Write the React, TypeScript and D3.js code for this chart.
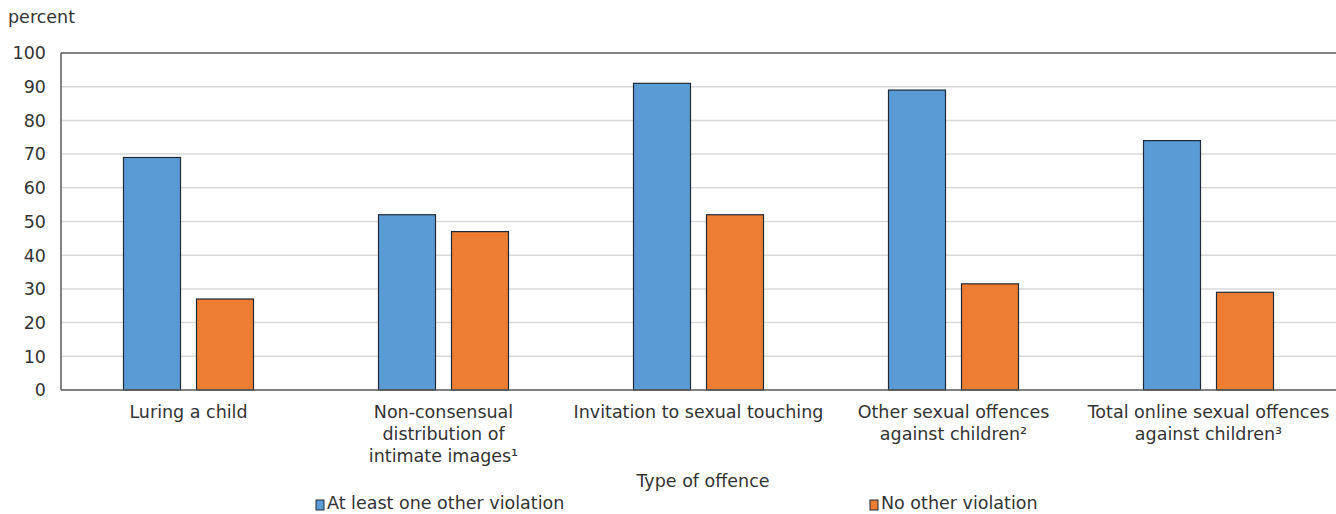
import React from "react";
import * as d3 from "d3";

const categories: string[][] = [
  ["Luring a child"],
  ["Non-consensual", "distribution of", "intimate images¹"],
  ["Invitation to sexual touching"],
  ["Other sexual offences", "against children²"],
  ["Total online sexual offences", "against children³"],
];
const seriesNames = ["At least one other violation", "No other violation"];
const atLeastOne = [69, 52, 91, 89, 74];
const noOther = [27, 47, 52, 31.5, 29];
const yTicks = [0, 10, 20, 30, 40, 50, 60, 70, 80, 90, 100];
const colors = ["#5b9bd5", "#ed7d31"];

const W = 1336;
const H = 514;
const margin = { left: 61, right: 0, top: 53, bottom: 124 };
const FONT = "Verdana, 'DejaVu Sans', sans-serif";
const TEXT = "#333333";
const FS = 17.5;

export default function App() {
  const x = d3
    .scaleBand<number>()
    .domain(d3.range(categories.length))
    .range([margin.left, W - margin.right])
    .paddingInner(0)
    .paddingOuter(0);
  const y = d3.scaleLinear().domain([0, 100]).range([H - margin.bottom, margin.top]);
  const bw = x.bandwidth();
  const barW = 57;
  const gap = 16;
  const groupW = barW * 2 + gap;
  const series = [atLeastOne, noOther];

  return (
    <svg
      width={W}
      height={H}
      style={{ position: "absolute", left: 0, top: 0, background: "#fff" }}
      fontFamily={FONT}
    >
      <text x={8} y={23} fontSize={FS} fill={TEXT}>percent</text>
      {yTicks.map((t) => (
        <g key={t}>
          {t > 0 && t < 100 && (
            <line x1={margin.left} x2={W} y1={y(t)} y2={y(t)} stroke="#d9d9d9" strokeWidth={1.5} />
          )}
          <text x={46} y={y(t)} dy="0.36em" textAnchor="end" fontSize={FS} fill={TEXT}>
            {t}
          </text>
        </g>
      ))}
      {series.map((vals, si) =>
        vals.map((v, i) => {
          const x0 = (x(i) as number) + bw / 2 - groupW / 2 + si * (barW + gap);
          return (
            <rect
              key={`${si}-${i}`}
              x={x0}
              y={y(v)}
              width={barW}
              height={y(0) - y(v)}
              fill={colors[si]}
              stroke="#1e2a38"
              strokeWidth={1.2}
            />
          );
        })
      )}
      <line x1={margin.left} x2={W} y1={y(100)} y2={y(100)} stroke="#595959" strokeWidth={1.5} />
      <line x1={margin.left} x2={W} y1={y(0)} y2={y(0)} stroke="#595959" strokeWidth={1.5} />
      <line x1={margin.left} x2={margin.left} y1={y(100)} y2={y(0)} stroke="#595959" strokeWidth={1.5} />
      {categories.map((lines, i) => (
        <text
          key={i}
          x={(x(i) as number) + bw / 2}
          y={418}
          textAnchor="middle"
          fontSize={FS}
          fill={TEXT}
        >
          {lines.map((l, j) => (
            <tspan key={j} x={(x(i) as number) + bw / 2} dy={j === 0 ? 0 : 22}>
              {l}
            </tspan>
          ))}
        </text>
      ))}
      <text x={703} y={487} textAnchor="middle" fontSize={FS} fill={TEXT}>
        Type of offence
      </text>
      {seriesNames.map((n, i) => {
        const lx = i === 0 ? 316 : 870;
        return (
          <g key={n}>
            <rect x={lx} y={500} width={8} height={10} fill={colors[i]} stroke="#1e2a38" strokeWidth={1} />
            <text x={lx + 11} y={509} fontSize={FS} fill={TEXT}>
              {n}
            </text>
          </g>
        );
      })}
    </svg>
  );
}
